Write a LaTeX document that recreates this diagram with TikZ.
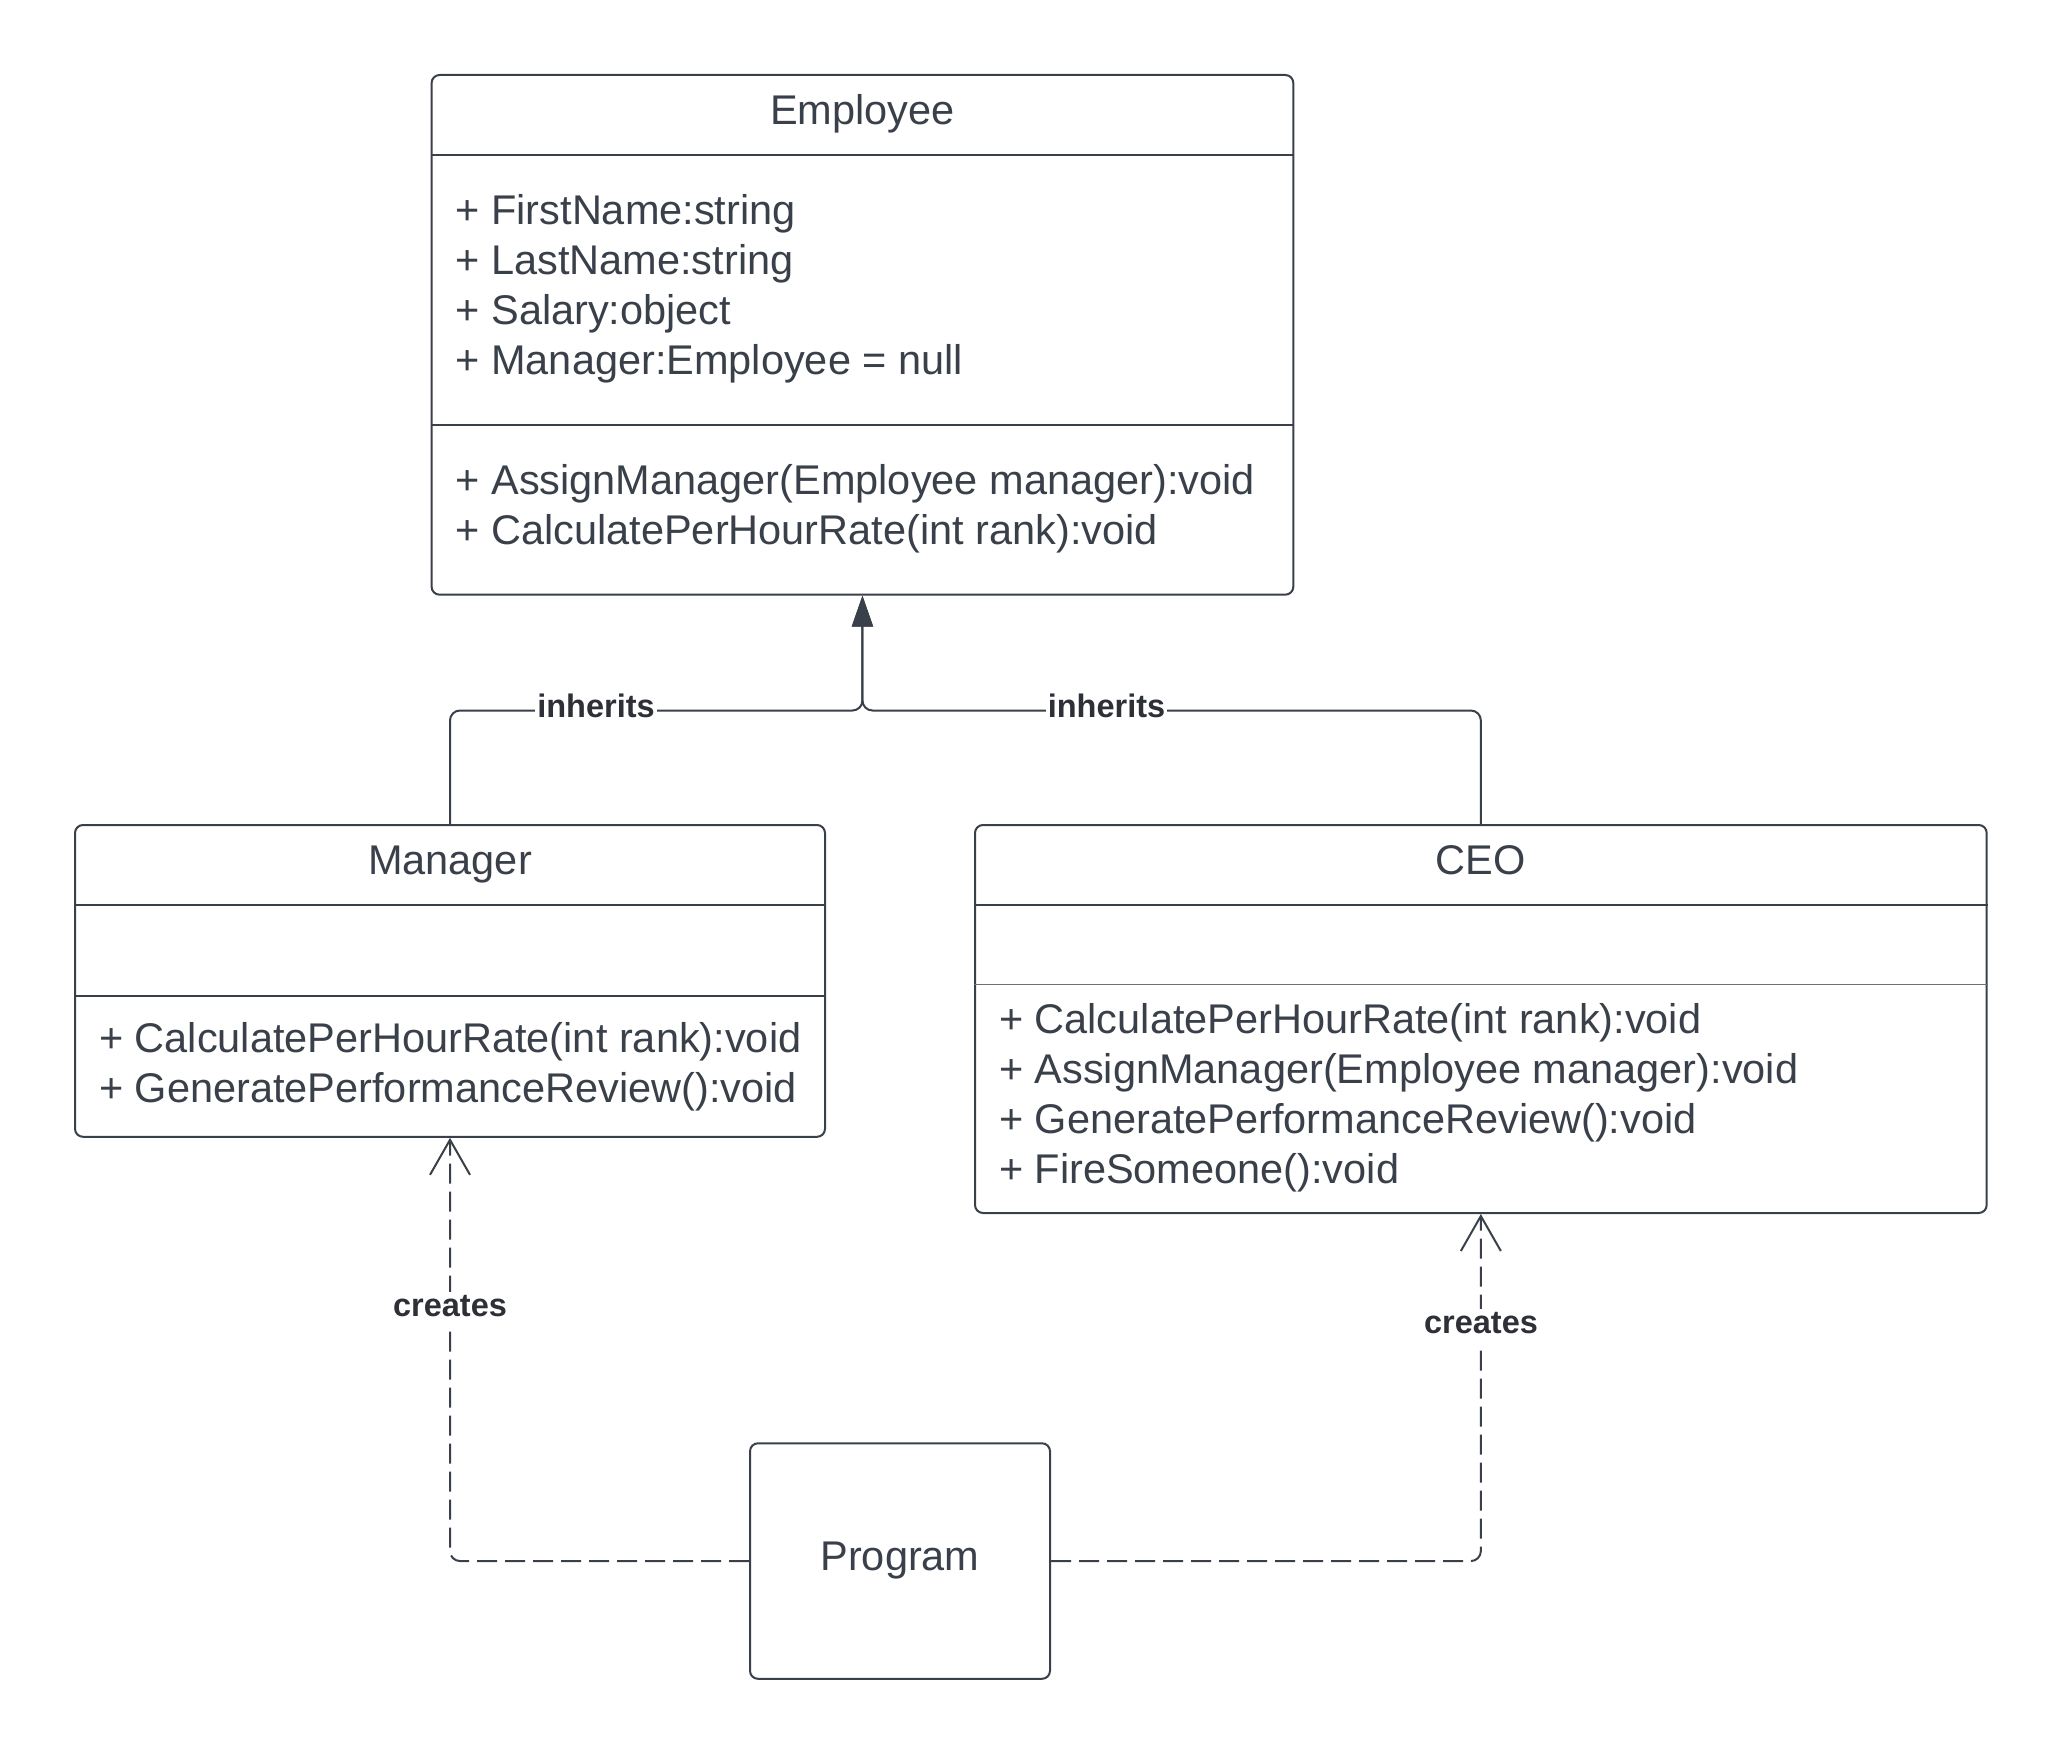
\documentclass[tikz,border=0pt]{standalone}
\usepackage{fontspec}
\setmainfont{Liberation Sans}
\usetikzlibrary{arrows.meta,fit}
\definecolor{ink}{RGB}{58,64,74}
\definecolor{lab}{RGB}{45,48,54}
\begin{document}
\begin{tikzpicture}[x=0.5pt,y=-0.5pt,
  classbox/.style={draw=ink, line width=1pt, rounded corners=4pt, inner sep=0pt},
  txt/.style={text=ink, font=\fontsize{20.75}{25}\selectfont, inner sep=0pt, text height=0.72em, text depth=0pt, yshift=-4pt},
  ltxt/.style={txt, anchor=west},
  lbl/.style={text=lab, font=\bfseries\fontsize{16.25}{19}\selectfont, fill=white, inner xsep=1pt, inner ysep=5pt, text height=0.72em, text depth=0pt, yshift=-2pt},
  sepline/.style={draw=ink, line width=1pt},
  conn/.style={draw=ink, line width=1pt, rounded corners=5pt},
  gen/.style={conn, -{Triangle[length=15.5pt,width=10.5pt]}},
  dep/.style={conn, dash pattern=on 10pt off 4pt, -{Straight Barb[length=17.5pt,width=20pt]}}
]
\useasboundingbox[fill=white] (0,0) rectangle (2063,1755);

% Employee
\node[classbox, fit={(431.6,75) (1293.3,594.7)}] (emp) {};
\draw[sepline] (emp.west |- 0,155.3) -- (emp.east |- 0,155.3);
\draw[sepline] (emp.west |- 0,425) -- (emp.east |- 0,425);
\node[txt] (empT) at (862.4,109.2) {Employee};
\node[ltxt] (ea1) at (455.2,209.2) {+ FirstName:string};
\node[ltxt] (ea2) at (455.2,259.2) {+ LastName:string};
\node[ltxt] (ea3) at (455.2,309.2) {+ Salary:object};
\node[ltxt] (ea4) at (455.2,359.2) {+ Manager:Employee = null};
\node[ltxt] (em1) at (455.2,478.9) {+ AssignManager(Employee manager):void};
\node[ltxt] (em2) at (455.2,528.9) {+ CalculatePerHourRate(int rank):void};

% Manager
\node[classbox, fit={(75,825) (825,1136.8)}] (mgr) {};
\draw[sepline] (mgr.west |- 0,905.2) -- (mgr.east |- 0,905.2);
\draw[sepline] (mgr.west |- 0,996) -- (mgr.east |- 0,996);
\node[txt] (mgrT) at (450,859.2) {Manager};
\node[ltxt] (mm1) at (98.7,1036.8) {+ CalculatePerHourRate(int rank):void};
\node[ltxt] (mm2) at (98.7,1086.8) {+ GeneratePerformanceReview():void};

% CEO
\node[classbox, fit={(975,825) (1986.7,1213)}] (ceo) {};
\draw[sepline] (ceo.west |- 0,905.2) -- (ceo.east |- 0,905.2);
\draw[draw=ink!75, line width=0.6pt] (ceo.west |- 0,984.1) -- (ceo.east |- 0,984.1);
\node[txt] (ceoT) at (1480.9,859.2) {CEO};
\node[ltxt] (cm1) at (998.6,1018.4) {+ CalculatePerHourRate(int rank):void};
\node[ltxt] (cm2) at (998.6,1068.4) {+ AssignManager(Employee manager):void};
\node[ltxt] (cm3) at (998.6,1118.4) {+ GeneratePerformanceReview():void};
\node[ltxt] (cm4) at (998.6,1168.4) {+ FireSomeone():void};

% Program
\node[classbox, fit={(750,1443.3) (1050,1678.8)}] (prog) {};
\node[txt] (progT) at (900,1555) {Program};

% inheritance
\coordinate (junc) at (emp.south |- 0,710.5);
\draw[gen] (mgr.north) |- (junc) -- (emp.south);
\draw[gen] (ceo.north) |- (junc) -- (emp.south);
\node[lbl] (inh1) at (596,706.5) {inherits};
\node[lbl] (inh2) at (1106.5,706.5) {inherits};

% creates
\draw[dep] (prog.west) -| (mgr.south);
\draw[dep] (prog.east) -| (ceo.south);
\node[lbl] (cr1) at (450,1305) {creates};
\node[lbl] (cr2) at (1481,1322.3) {creates};
\end{tikzpicture}
\end{document}
